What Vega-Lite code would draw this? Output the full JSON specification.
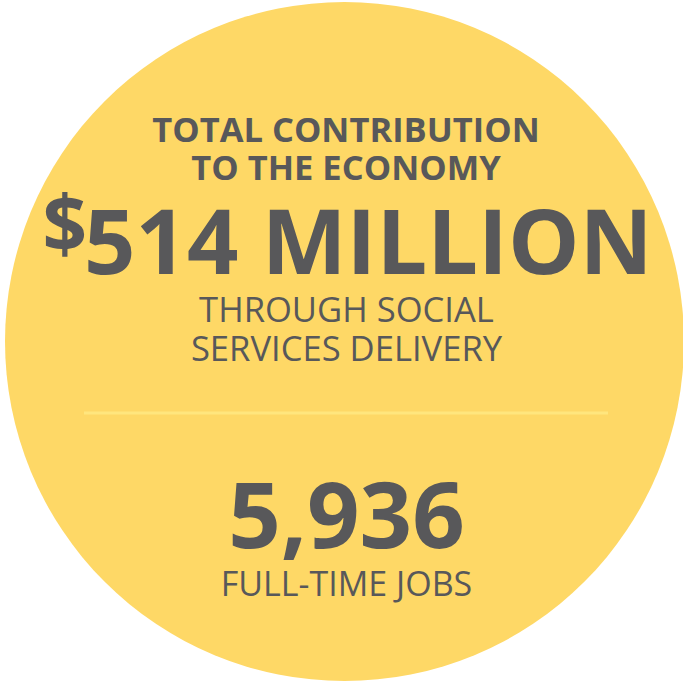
{
  "$schema": "https://vega.github.io/schema/vega-lite/v6.json",
  "width": 683,
  "height": 684,
  "autosize": {"type": "none"},
  "padding": 0,
  "background": "#ffffff",
  "config": {"view": {"stroke": null}, "text": {"font": "Open Sans", "color": "#58585A"}},
  "datasets": {
    "disc": [{"shape": "circle"}],
    "divider": [{"part": "divider"}],
    "kicker": [{"label": "TOTAL CONTRIBUTION\nTO THE ECONOMY"}],
    "currency": [{"label": "$"}],
    "amount": [{"value": 514, "unit": "MILLION"}],
    "amountNote": [{"label": "THROUGH SOCIAL\nSERVICES DELIVERY"}],
    "jobs": [{"value": 5936}],
    "jobsNote": [{"label": "FULL-TIME JOBS"}]
  },
  "layer": [
    {
      "data": {"name": "disc"},
      "mark": {"type": "point", "shape": "circle", "filled": true, "fill": "#FED866", "opacity": 1, "strokeWidth": 0, "size": 461041},
      "encoding": {
        "x": {"datum": 344.5, "type": "quantitative", "scale": {"domain": [0, 683], "nice": false, "zero": false}, "axis": null},
        "y": {"datum": 341.5, "type": "quantitative", "scale": {"domain": [0, 684], "nice": false, "zero": false, "reverse": true}, "axis": null}
      }
    },
    {
      "data": {"name": "divider"},
      "mark": {"type": "rule", "stroke": "#FFE67E", "strokeWidth": 3},
      "encoding": {
        "x": {"datum": 84, "type": "quantitative"},
        "x2": {"datum": 608},
        "y": {"datum": 413, "type": "quantitative"}
      }
    },
    {
      "data": {"name": "kicker"},
      "mark": {"type": "text", "fontWeight": "bold", "fontSize": 34.5, "align": "center", "baseline": "alphabetic", "lineBreak": "\n", "lineHeight": 38.5},
      "encoding": {
        "x": {"datum": 346, "type": "quantitative"},
        "y": {"datum": 141.5, "type": "quantitative"},
        "text": {"field": "label"}
      }
    },
    {
      "data": {"name": "currency"},
      "mark": {"type": "text", "fontWeight": "bold", "fontSize": 78, "align": "right", "baseline": "alphabetic"},
      "encoding": {
        "x": {"datum": 87, "type": "quantitative"},
        "y": {"datum": 252, "type": "quantitative"},
        "text": {"field": "label"}
      }
    },
    {
      "data": {"name": "amount"},
      "transform": [{"calculate": "datum.value + ' ' + datum.unit", "as": "label"}],
      "mark": {"type": "text", "fontWeight": "bold", "fontSize": 90, "align": "left", "baseline": "alphabetic"},
      "encoding": {
        "x": {"datum": 84, "type": "quantitative"},
        "y": {"datum": 273.5, "type": "quantitative"},
        "text": {"field": "label"}
      }
    },
    {
      "data": {"name": "amountNote"},
      "mark": {"type": "text", "fontWeight": "normal", "fontSize": 34.6, "align": "center", "baseline": "alphabetic", "lineBreak": "\n", "lineHeight": 38.7},
      "encoding": {
        "x": {"datum": 346.5, "type": "quantitative"},
        "y": {"datum": 322, "type": "quantitative"},
        "text": {"field": "label"}
      }
    },
    {
      "data": {"name": "jobs"},
      "mark": {"type": "text", "fontWeight": "bold", "fontSize": 92, "align": "center", "baseline": "alphabetic"},
      "encoding": {
        "x": {"datum": 346.5, "type": "quantitative"},
        "y": {"datum": 548, "type": "quantitative"},
        "text": {"field": "value", "type": "quantitative", "format": ","}
      }
    },
    {
      "data": {"name": "jobsNote"},
      "mark": {"type": "text", "fontWeight": "normal", "fontSize": 34, "align": "center", "baseline": "alphabetic"},
      "encoding": {
        "x": {"datum": 346.5, "type": "quantitative"},
        "y": {"datum": 596, "type": "quantitative"},
        "text": {"field": "label"}
      }
    }
  ]
}
